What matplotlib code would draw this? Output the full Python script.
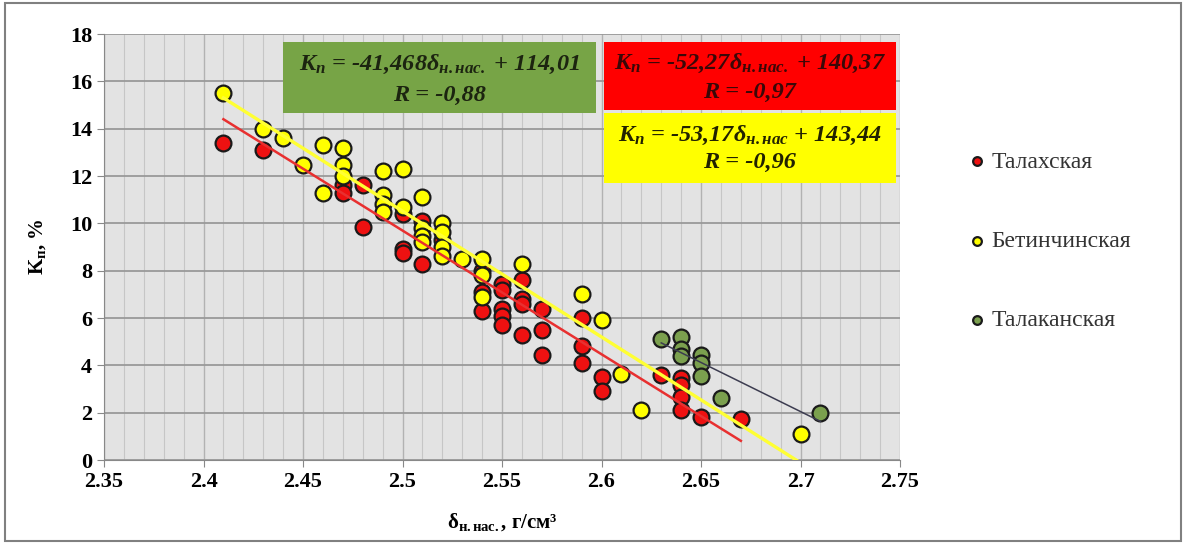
import numpy as np
import matplotlib.pyplot as plt
from matplotlib.patches import Rectangle
from matplotlib.ticker import FuncFormatter, MultipleLocator

plt.rcParams['font.family'] = ['Liberation Serif', 'DejaVu Serif']
plt.rcParams['mathtext.fontset'] = 'custom'
plt.rcParams['mathtext.rm'] = 'Liberation Serif'
plt.rcParams['mathtext.it'] = 'Liberation Serif:italic'
plt.rcParams['mathtext.bf'] = 'Liberation Serif:bold'

# Талахская (красные)
talakh_x = [2.41, 2.43, 2.47, 2.47, 2.48, 2.48, 2.50, 2.50, 2.50, 2.51, 2.51, 2.52,
            2.54, 2.54, 2.54, 2.55, 2.55, 2.55, 2.55, 2.55, 2.56, 2.56, 2.56, 2.56,
            2.57, 2.57, 2.57, 2.59, 2.59, 2.59, 2.60, 2.60, 2.63, 2.64, 2.64, 2.64,
            2.64, 2.65, 2.67]
talakh_y = [13.4, 13.1, 11.6, 11.3, 11.6, 9.85, 10.4, 8.9, 8.75, 10.1, 8.3, 9.3,
            8.0, 7.1, 6.3, 7.45, 7.2, 6.4, 6.1, 5.7, 7.6, 6.8, 6.6, 5.3,
            6.4, 5.5, 4.45, 6.0, 4.8, 4.1, 3.5, 2.9, 3.6, 3.45, 3.15, 2.65,
            2.1, 1.8, 1.75]

# Бетинчинская (жёлтые)
betin_x = [2.41, 2.43, 2.44, 2.45, 2.46, 2.46, 2.47, 2.47, 2.47, 2.49, 2.49, 2.49,
           2.49, 2.50, 2.50, 2.51, 2.51, 2.51, 2.51, 2.52, 2.52, 2.52, 2.52, 2.53,
           2.54, 2.54, 2.54, 2.56, 2.59, 2.60, 2.61, 2.62, 2.70]
betin_y = [15.5, 14.0, 13.6, 12.45, 13.3, 11.3, 13.2, 12.45, 12.0, 12.2, 11.2, 10.8,
           10.5, 12.3, 10.7, 11.1, 9.8, 9.45, 9.2, 10.0, 9.65, 9.0, 8.6, 8.5,
           8.5, 7.8, 6.9, 8.3, 7.0, 5.9, 3.65, 2.1, 1.1]

# Талаканская (зелёные)
talak_x = [2.63, 2.64, 2.64, 2.64, 2.65, 2.65, 2.65, 2.66, 2.71]
talak_y = [5.1, 5.2, 4.7, 4.4, 4.45, 4.1, 3.55, 2.6, 2.0]

# линии тренда: наклон, свободный член, диапазон x
trend_k = [-52.27, -53.17, -41.468]
trend_b = [140.37, 143.44, 114.01]
trend_x0 = [2.41, 2.41, 2.63]
trend_x1 = [2.67, 2.70, 2.71]

names = ['Талахская', 'Бетинчинская', 'Талаканская']
x_ticks = [2.35, 2.4, 2.45, 2.5, 2.55, 2.6, 2.65, 2.7, 2.75]
y_ticks = [0, 2, 4, 6, 8, 10, 12, 14, 16, 18]

fig = plt.figure(figsize=(11.86, 5.44), dpi=100)
ax = fig.add_axes([0.0877, 0.1544, 0.6712, 0.7831])
ax.set_facecolor('#e3e3e3')

ax.set_xlim(2.35, 2.75)
ax.set_ylim(0, 18)
ax.set_xticks(x_ticks)
ax.set_yticks(y_ticks)
ax.xaxis.set_minor_locator(MultipleLocator(0.01))
ax.xaxis.set_major_formatter(FuncFormatter(lambda v, p: '%g' % round(v, 2)))
ax.grid(which='minor', axis='x', color='#c6c6c6', lw=0.8)
ax.grid(which='major', axis='x', color='#b2b2b2', lw=1.0)
ax.grid(which='major', axis='y', color='#999999', lw=1.3)
ax.set_axisbelow(True)
ax.tick_params(which='minor', length=0)
ax.tick_params(which='major', length=5, color='#888888', labelsize=16)
for lab in ax.get_xticklabels() + ax.get_yticklabels():
    lab.set_fontweight('bold')
for s in ['top', 'right']:
    ax.spines[s].set_visible(False)
for s in ['left', 'bottom']:
    ax.spines[s].set_color('#888888')

colors = ['#ee1111', '#ffff00', '#7ba04e']
series = [(talakh_x, talakh_y), (betin_x, betin_y), (talak_x, talak_y)]
for (xs, ys), c, n in zip(series, colors, names):
    ax.scatter(xs, ys, s=130, c=c, edgecolors='#1a1a1a', linewidths=1.6,
               zorder=3, label=n)

line_colors = ['#e83030', '#ffff33', '#3c3c50']
line_widths = [1.8, 2.4, 1.1]
for k, b, x0, x1, c, w in zip(trend_k, trend_b, trend_x0, trend_x1,
                               line_colors, line_widths):
    xx = np.array([x0, x1])
    ax.plot(xx, k * xx + b, color=c, lw=w, zorder=4)

# подписи с уравнениями
boxes = [
    (2.440, 14.66, 0.157, 3.00, '#77a446', '#1c2410',
     'K$_{\\mathregular{п}}$ = -41,468δ$_{\\mathregular{н.нас.}}$ + 114,01', 'R = -0,88', 16.70, 15.42),
    (2.601, 14.79, 0.147, 2.87, '#ff0000', '#3a0808',
     'K$_{\\mathregular{п}}$ = -52,27δ$_{\\mathregular{н.нас.}}$ + 140,37', 'R = -0,97', 16.77, 15.55),
    (2.601, 11.70, 0.147, 2.96, '#ffff00', '#222200',
     'K$_{\\mathregular{п}}$ = -53,17δ$_{\\mathregular{н.нас}}$ + 143,44', 'R = -0,96', 13.73, 12.59),
]
for x0, y0, w, h, fc, tc, t1, t2, ty1, ty2 in boxes:
    ax.add_patch(Rectangle((x0, y0), w, h, facecolor=fc, edgecolor='none', zorder=5))
    for t, ty in [(t1, ty1), (t2, ty2)]:
        ax.text(x0 + w / 2, ty, t, ha='center', va='center', fontsize=17.5,
                fontweight='bold', fontstyle='italic', color=tc, zorder=6)

ax.set_xlabel('δ$_{\\mathregular{н.нас.}}$, г/см³', fontsize=15, fontweight='bold', labelpad=14)
ax.set_ylabel('K$_{\\mathregular{п}}$, %', fontsize=15, fontweight='bold', labelpad=16)

leg = ax.legend(loc='upper left', bbox_to_anchor=(1.082, 0.725), frameon=False,
                fontsize=17, labelspacing=2.45, handletextpad=0.1, handlelength=1.0,
                markerscale=0.55, borderaxespad=0, borderpad=0)
for t in leg.get_texts():
    t.set_color('#333333')

fig.patches.append(Rectangle((0.004, 0.006), 0.992, 0.988, transform=fig.transFigure,
                             fill=False, edgecolor='#808080', lw=1.5))

plt.savefig('out.png', dpi=100)
